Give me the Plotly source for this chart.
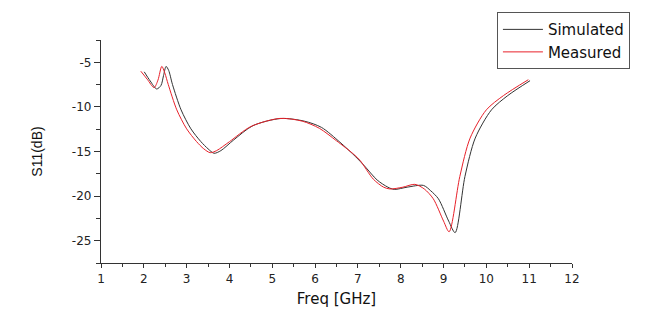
import plotly.graph_objects as go

# Measured (red) curve
freq_meas = [1.93, 2.08, 2.24, 2.33, 2.42, 2.49, 2.57, 2.77, 3.00, 3.23, 3.40, 3.55, 3.70,
             4.00, 4.50, 5.18, 5.70, 6.10, 6.50, 6.90, 7.05, 7.36, 7.60, 7.75, 8.05, 8.33,
             8.55, 8.76, 9.00, 9.13, 9.38, 9.62, 10.00, 10.40, 10.98]
s11_meas = [-6.0, -6.9, -7.84, -7.0, -5.46, -6.2, -7.48, -10.33, -12.46, -13.88, -14.7, -15.13, -14.9,
            -13.9, -12.2, -11.29, -11.6, -12.4, -13.8, -15.3, -16.0, -18.1, -19.0, -19.2, -19.0, -18.68,
            -19.2, -20.3, -22.8, -24.0, -17.8, -13.5, -10.33, -8.73, -6.95]

# Simulated (black) curve
freq_sim = [2.01, 2.15, 2.30, 2.40, 2.46, 2.52, 2.58, 2.67, 2.87, 3.10, 3.33, 3.50, 3.64, 3.80,
            4.10, 4.55, 5.20, 5.75, 6.15, 6.58, 6.95, 7.15, 7.45, 7.70, 7.85, 8.15, 8.53,
            8.70, 8.88, 9.12, 9.27, 9.50, 9.74, 10.12, 10.50, 11.02]
s11_sim = [-6.07, -7.1, -7.99, -7.6, -6.5, -5.46, -5.9, -7.5, -10.33, -12.46, -13.88, -14.7, -15.2, -14.9,
           -13.7, -12.1, -11.3, -11.6, -12.3, -13.96, -15.6, -16.6, -18.2, -19.0, -19.25, -19.0, -18.8,
           -19.4, -20.3, -22.8, -24.1, -17.8, -13.5, -10.33, -8.73, -7.06]

x_tickvals = list(range(1, 13))
x_ticktext = [str(v) for v in x_tickvals]
y_tickvals = [-25, -20, -15, -10, -5]
y_ticktext = ["-25", "-20", "-15", "-10", "-5"]

fig = go.Figure()
fig.add_trace(go.Scatter(x=freq_sim, y=s11_sim, mode="lines", name="Simulated",
                         line=dict(color="#333333", width=1, shape="spline", smoothing=0.8)))
fig.add_trace(go.Scatter(x=freq_meas, y=s11_meas, mode="lines", name="Measured",
                         line=dict(color="#e8212a", width=1, shape="spline", smoothing=0.8)))

axis_font = dict(family="DejaVu Sans", size=12, color="#222222")
fig.update_layout(
    width=646, height=316,
    margin=dict(l=101, r=74, t=33, b=48),
    paper_bgcolor="white", plot_bgcolor="white",
    showlegend=True,
    legend=dict(x=1.123, y=1.125, xanchor="right", yanchor="top",
                bordercolor="#555555", borderwidth=1, bgcolor="white",
                font=dict(family="DejaVu Sans", size=15, color="#111111"),
                itemwidth=40, tracegroupgap=0),
    xaxis=dict(range=[1, 12], showline=True, linecolor="#333333", linewidth=1.3,
               showgrid=False, zeroline=False, ticks="outside", ticklen=4, tickwidth=1,
               tickcolor="#333333", tickvals=x_tickvals, ticktext=x_ticktext,
               tickfont=axis_font,
               minor=dict(ticks="outside", ticklen=3, dtick=0.5, tick0=1, tickcolor="#333333"),
               title=dict(text="Freq [GHz]", font=dict(family="DejaVu Sans", size=15, color="#111111"),
                          standoff=8)),
    yaxis=dict(range=[-27.5, -2.5], showline=True, linecolor="#333333", linewidth=1.3,
               showgrid=False, zeroline=False, ticks="outside", ticklen=6, tickwidth=1,
               tickcolor="#333333", tickvals=y_tickvals, ticktext=y_ticktext,
               tickfont=axis_font,
               minor=dict(ticks="outside", ticklen=4, dtick=2.5, tick0=-2.5, tickcolor="#333333"),
               title=dict(text="S11(dB)", font=dict(family="Liberation Sans", size=14, color="#111111"),
                          standoff=25)),
)

fig.write_html("out.html")
